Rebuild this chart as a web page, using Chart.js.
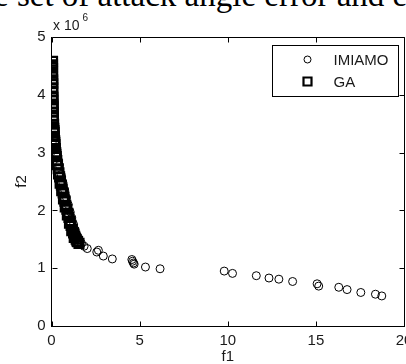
<!DOCTYPE html>
<html>
<head>
<meta charset="utf-8">
<script src="https://cdn.jsdelivr.net/npm/chart.js@4.4.0/dist/chart.umd.min.js"></script>
<style>
  html, body { margin: 0; padding: 0; background: #fff; overflow: hidden; width: 406px; height: 364px; }
  #wrap { position: relative; width: 406px; height: 364px; overflow: hidden; }
  #title { position: absolute; left: -6px; top: -21px; font: 33px/33px "Liberation Serif", "Times New Roman", serif; color: #000; white-space: nowrap; }
  canvas { position: absolute; left: 0; top: 0; }
</style>
</head>
<body>
<div id="wrap">
  <div id="title">e set of attack angle error and energy</div>
  <canvas id="c" width="420" height="364"></canvas>
</div>
<script>
// ---- data (f2 in units of 10^6) ----
const seriesNames = ["IMIAMO", "GA"];
const xTicks = [0, 5, 10, 15, 20];
const yTicks = [0, 1, 2, 3, 4, 5];
const yExponent = "6";
const xTitle = "f1";
const yTitle = "f2";

const imiamoF1 = [0.20, 0.27, 0.35, 0.45, 0.55, 0.65, 0.75, 0.85, 0.95, 1.05, 1.15, 1.25, 1.35, 1.45, 1.55, 1.70, 1.85,
  2.03, 2.57, 2.66, 2.94, 3.45, 4.56, 4.60, 4.65, 4.69, 5.33, 6.16,
  9.80, 10.27, 11.62, 12.34, 12.90, 13.68, 15.07, 15.16, 16.30, 16.77, 17.55, 18.38, 18.74];
const imiamoF2 = [3.30, 3.10, 2.95, 2.78, 2.62, 2.48, 2.35, 2.22, 2.10, 1.98, 1.87, 1.76, 1.66, 1.57, 1.50, 1.43, 1.38,
  1.34, 1.28, 1.31, 1.21, 1.16, 1.15, 1.12, 1.09, 1.07, 1.02, 0.99,
  0.95, 0.91, 0.87, 0.83, 0.81, 0.77, 0.73, 0.69, 0.67, 0.63, 0.58, 0.55, 0.52];

const gaF1 = [0.06, 0.06, 0.06, 0.06, 0.06, 0.07, 0.07, 0.07, 0.07, 0.07, 0.08, 0.08, 0.09, 0.10, 0.10, 0.11, 0.12, 0.13,
  0.15, 0.16, 0.18, 0.20, 0.22, 0.24, 0.27, 0.30, 0.34, 0.38, 0.42, 0.46, 0.51, 0.56, 0.61, 0.66, 0.71, 0.76, 0.81,
  0.87, 0.93, 0.99, 1.05, 1.11, 1.18, 1.25, 1.32, 1.40, 1.48, 1.56,
  0.05, 0.06, 0.08, 0.09, 0.11, 0.14, 0.19, 0.25, 0.32, 0.40, 0.49, 0.58, 0.68, 0.78, 0.90, 1.02, 1.15, 1.29, 1.44];
const gaF2 = [4.58, 4.52, 4.46, 4.40, 4.33, 4.26, 4.19, 4.12, 4.05, 3.98, 3.91, 3.84, 3.77, 3.70, 3.63, 3.56, 3.49, 3.42,
  3.35, 3.28, 3.21, 3.14, 3.07, 3.00, 2.93, 2.86, 2.79, 2.72, 2.65, 2.58, 2.51, 2.44, 2.37, 2.30, 2.23, 2.16, 2.09,
  2.02, 1.95, 1.88, 1.81, 1.74, 1.67, 1.61, 1.55, 1.50, 1.46, 1.43,
  4.49, 4.22, 3.95, 3.80, 3.60, 3.38, 3.18, 2.97, 2.80, 2.63, 2.47, 2.34, 2.20, 2.06, 1.92, 1.78, 1.65, 1.53, 1.47];

const toPoints = (xs, ys) => xs.map((x, i) => ({ x: x, y: ys[i] }));

const tickFont = { family: "'Liberation Sans', Arial, sans-serif", size: 15 };
const ink = "#1a1a1a";

const matlabFrame = {
  id: "matlabFrame",
  afterDraw(chart) {
    const ctx = chart.ctx;
    const a = chart.chartArea;
    const sx = chart.scales.x, sy = chart.scales.y;
    const L = Math.round(a.left) + 0.5, R = Math.round(a.right) + 0.5;
    const T = Math.round(a.top) + 0.5, B = Math.round(a.bottom) + 0.5;
    ctx.save();
    ctx.strokeStyle = "#000";
    ctx.lineWidth = 1;
    ctx.beginPath();
    ctx.moveTo(L, T); ctx.lineTo(R, T); ctx.lineTo(R, B);
    const tl = 5;
    xTicks.forEach(v => {
      const px = Math.round(sx.getPixelForValue(v)) + 0.5;
      ctx.moveTo(px, B); ctx.lineTo(px, B - tl);
      ctx.moveTo(px, T); ctx.lineTo(px, T + tl);
    });
    yTicks.forEach(v => {
      const py = Math.round(sy.getPixelForValue(v)) + 0.5;
      ctx.moveTo(L, py); ctx.lineTo(L + tl, py);
      ctx.moveTo(R, py); ctx.lineTo(R - tl, py);
    });
    ctx.stroke();

    // exponent label
    ctx.fillStyle = ink;
    ctx.textAlign = "left";
    ctx.textBaseline = "alphabetic";
    ctx.font = "14px 'Liberation Sans', Arial, sans-serif";
    ctx.fillText("x 10", a.left + 1.5, a.top - 7);
    ctx.font = "10px 'Liberation Sans', Arial, sans-serif";
    ctx.fillText(yExponent, a.left + 31, a.top - 16);

    // legend
    const bx = Math.round(a.right - 132) + 0.5, by = Math.round(a.top + 8) + 0.5;
    const bw = 126, bh = 51;
    ctx.fillStyle = "#fff";
    ctx.fillRect(bx, by, bw, bh);
    ctx.strokeStyle = "#000";
    ctx.lineWidth = 1;
    ctx.strokeRect(bx, by, bw, bh);
    chart.data.datasets.forEach((ds, i) => {
      const cy = by + 14 + i * 22;
      const cx = bx + 35;
      ctx.lineWidth = ds.borderWidth;
      ctx.strokeStyle = "#000";
      ctx.beginPath();
      if (ds.pointStyle === "circle") {
        ctx.arc(cx, cy, 3.5, 0, Math.PI * 2);
      } else {
        ctx.rect(cx - 4, cy - 4, 8, 8);
      }
      ctx.stroke();
      ctx.fillStyle = ink;
      ctx.font = "15px 'Liberation Sans', Arial, sans-serif";
      ctx.textBaseline = "middle";
      ctx.fillText(ds.label, bx + 61, cy + 1);
    });
    ctx.restore();
  }
};

new Chart(document.getElementById("c"), {
  type: "scatter",
  data: {
    datasets: [
      {
        label: seriesNames[0],
        data: toPoints(imiamoF1, imiamoF2),
        pointStyle: "circle",
        pointRadius: 4,
        borderColor: "#000",
        backgroundColor: "rgba(0,0,0,0)",
        borderWidth: 1,
        order: 1
      },
      {
        label: seriesNames[1],
        data: toPoints(gaF1, gaF2),
        pointStyle: "rect",
        pointRadius: 6.3,
        borderColor: "#000",
        backgroundColor: "rgba(0,0,0,0)",
        borderWidth: 2.2,
        order: 2
      }
    ]
  },
  options: {
    responsive: false,
    animation: false,
    devicePixelRatio: 1,
    layout: { padding: { left: 0, right: 16, top: 37, bottom: 0 } },
    plugins: { legend: { display: false }, tooltip: { enabled: false } },
    scales: {
      x: {
        type: "linear", min: 0, max: 20,
        afterFit(s) { s.height = 38; },
        afterBuildTicks(s) { s.ticks = xTicks.map(v => ({ value: v })); },
        ticks: { font: tickFont, color: ink, padding: 6, maxRotation: 0 },
        grid: { display: false, drawTicks: false },
        border: { display: true, color: "#000", width: 1 },
        title: { display: true, text: xTitle, font: Object.assign({ lineHeight: 1 }, tickFont), color: ink, padding: { top: 0, bottom: 0 } }
      },
      y: {
        type: "linear", min: 0, max: 5,
        afterFit(s) { s.width = 51.5; },
        afterBuildTicks(s) { s.ticks = yTicks.map(v => ({ value: v })); },
        ticks: { font: tickFont, color: ink, padding: 6 },
        grid: { display: false, drawTicks: false },
        border: { display: true, color: "#000", width: 1 },
        title: { display: true, text: yTitle, font: Object.assign({ lineHeight: 1 }, tickFont), color: ink, padding: { top: 14, bottom: 0 } }
      }
    }
  },
  plugins: [matlabFrame]
});
</script>
</body>
</html>
